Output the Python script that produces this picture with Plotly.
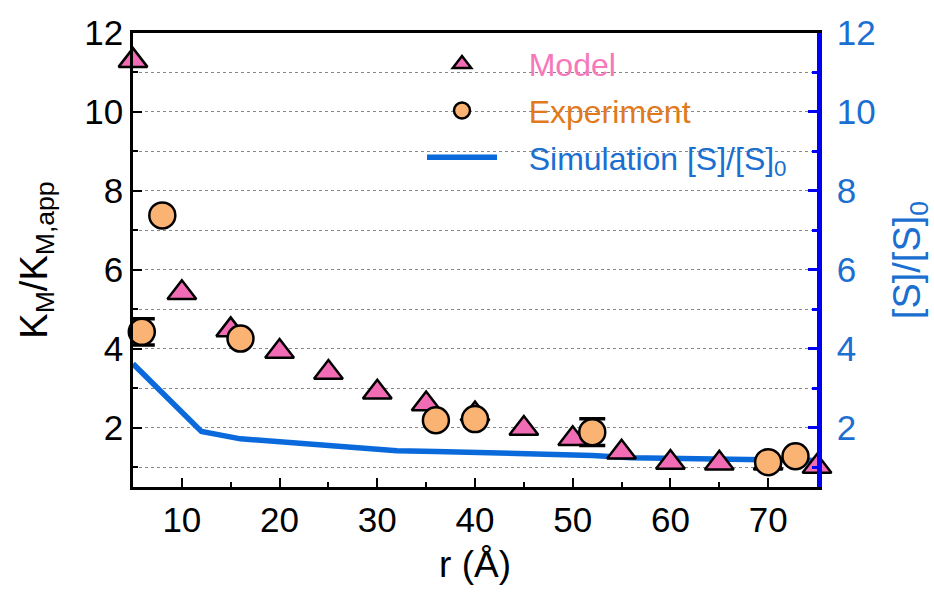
import plotly.graph_objects as go

# Model (triangles)
model_r = [5, 10, 15, 20, 25, 30, 35, 40, 45, 50, 55, 60, 65, 70, 75]
model_k = [11.3, 5.42, 4.48, 3.93, 3.4, 2.9, 2.6, 2.35, 1.98, 1.72, 1.38, 1.12, 1.1, 1.1, 1.02]

# Experiment (circles)
exp_r = [5.9, 8, 16, 36, 40, 52, 70, 72.8]
exp_k = [4.43, 7.38, 4.26, 2.19, 2.22, 1.89, 1.13, 1.28]
exp_err = [0.33, None, None, None, None, 0.34, None, None]

# Simulation [S]/[S]0 (line)
sim_r = [5, 12, 16, 20, 24, 28, 32, 36, 40, 44, 48, 52, 56, 60, 64, 68, 72, 75]
sim_s = [3.62, 1.91, 1.72, 1.64, 1.56, 1.48, 1.42, 1.4, 1.38, 1.36, 1.32, 1.3, 1.24, 1.22, 1.21, 1.2, 1.19, 1.17]

x_ticks = [10, 20, 30, 40, 50, 60, 70]
y_ticks = [2, 4, 6, 8, 10, 12]

FONT = "Liberation Sans, Arial, sans-serif"
PINK = "#F26BB5"
ORANGE = "#FBB374"
BLUE_LINE = "#0A6ADB"
BLUE_AXIS = "#0000F5"
BLUE_TEXT = "#1A6FD0"
PAD = "&nbsp;&nbsp;&nbsp;"

fig = go.Figure()

fig.add_trace(go.Scatter(
    x=sim_r, y=sim_s, mode="lines",
    line=dict(color=BLUE_LINE, width=5.5),
    name=PAD + "<span style='color:%s'>Simulation [S]/[S]<sub>0</sub></span>" % BLUE_TEXT,
    legendgroup="c", legendrank=3,
))
fig.add_trace(go.Scatter(
    x=model_r, y=model_k, mode="markers",
    marker=dict(symbol="triangle-up", size=25, color=PINK, line=dict(color="black", width=2.5)),
    name=PAD + "<span style='color:#F777BB'>Model</span>",
    legendgroup="a", legendrank=1, cliponaxis=False,
))
fig.add_trace(go.Scatter(
    x=exp_r, y=exp_k, mode="markers",
    marker=dict(symbol="circle", size=26, color=ORANGE, line=dict(color="black", width=2.5)),
    error_y=dict(type="data", array=exp_err, color="black", thickness=3.5, width=13, visible=True),
    name=PAD + "<span style='color:#E07A1C'>Experiment</span>",
    legendgroup="b", legendrank=2, cliponaxis=False,
))
# invisible anchor so the right-hand axis is drawn
fig.add_trace(go.Scatter(x=[None], y=[None], yaxis="y2", showlegend=False, hoverinfo="skip"))

fig.update_layout(
    width=934, height=599,
    margin=dict(l=133, r=117, t=33, b=112),
    paper_bgcolor="white", plot_bgcolor="white",
    font=dict(family=FONT, size=30, color="black"),
    showlegend=True,
    legend=dict(
        x=(422 - 133) / 684, y=0.992, xanchor="left", yanchor="top",
        bgcolor="rgba(0,0,0,0)", font=dict(size=32),
        tracegroupgap=2, itemwidth=70,
    ),
    xaxis=dict(
        range=[5, 75], tickvals=x_ticks, ticktext=[str(v) for v in x_ticks],
        showline=True, linecolor="black", linewidth=2.5, mirror=True,
        ticks="inside", ticklen=9, tickwidth=2, tickcolor="black",
        minor=dict(dtick=5, tick0=0, ticks="inside", ticklen=5, tickwidth=2, tickcolor="black"),
        showgrid=False, zeroline=False,
        tickfont=dict(size=35),
        title=dict(text="r (Å)", font=dict(size=37), standoff=14),
    ),
    yaxis=dict(
        range=[0.5, 12], tickvals=y_ticks, ticktext=[str(v) for v in y_ticks],
        showline=True, linecolor="black", linewidth=2.5,
        ticks="inside", ticklen=9, tickwidth=2, tickcolor="black",
        minor=dict(dtick=1, tick0=0, ticks="inside", ticklen=5, tickwidth=2, tickcolor="black",
                   showgrid=True, gridcolor="#888888", gridwidth=1, griddash="dot"),
        showgrid=True, gridcolor="#888888", gridwidth=1, griddash="dot",
        zeroline=False, tickfont=dict(size=35),
        title=dict(text="K<sub>M</sub>/K<sub>M,app</sub>", font=dict(size=38), standoff=26),
    ),
    yaxis2=dict(
        overlaying="y", side="right", anchor="x",
        range=[0.5, 12], tickvals=y_ticks, ticktext=[str(v) for v in y_ticks],
        showline=True, linecolor=BLUE_AXIS, linewidth=4.5,
        ticks="inside", ticklen=9, tickwidth=2.5, tickcolor=BLUE_AXIS,
        minor=dict(dtick=1, tick0=0, ticks="inside", ticklen=5, tickwidth=2.5, tickcolor=BLUE_AXIS),
        showgrid=False, zeroline=False, ticklabelstandoff=8,
        tickfont=dict(size=35, color=BLUE_TEXT),
        title=dict(text="[S]/[S]<sub>0</sub>", font=dict(size=38, color=BLUE_TEXT), standoff=20),
    ),
)

fig.write_html("out.html")
